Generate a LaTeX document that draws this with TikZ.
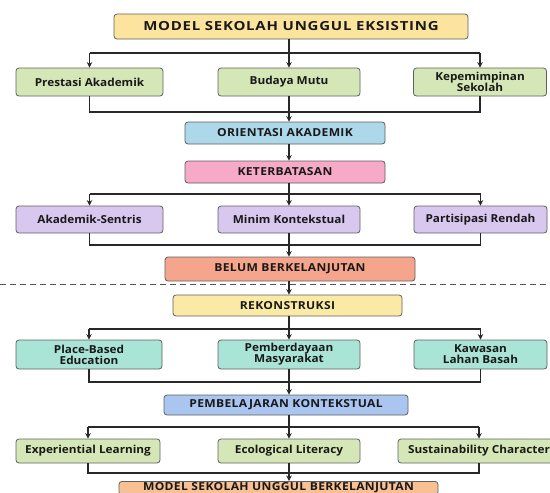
\documentclass[tikz,border=0pt]{standalone}
\usepackage{fontspec}
\setmainfont{Open Sans}[FakeStretch=1.07]
\newfontfamily\capfont{Open Sans}[FakeStretch=1.1, LetterSpace=3]
\newfontfamily\titlefont{Open Sans}[FakeStretch=1.2, LetterSpace=6]
\usepackage{xcolor}
\usepackage{tikz}
\usetikzlibrary{arrows.meta,positioning,calc}
\definecolor{lineGray}{RGB}{40, 40, 40}
\definecolor{edgeGray}{RGB}{95, 95, 95}
\definecolor{titleYellow}{RGB}{252, 228, 158}
\definecolor{softGreen}{RGB}{214, 231, 183}
\definecolor{skyBlue}{RGB}{172, 216, 234}
\definecolor{rosePink}{RGB}{246, 170, 199}
\definecolor{lilac}{RGB}{216, 199, 238}
\definecolor{salmon}{RGB}{245, 165, 140}
\definecolor{paleYellow}{RGB}{251, 234, 166}
\definecolor{mintTeal}{RGB}{169, 228, 214}
\definecolor{cornBlue}{RGB}{170, 197, 240}
\definecolor{peach}{RGB}{249, 193, 147}

\begin{document}
\begin{tikzpicture}[x=1pt, y=-1pt,
    box/.style={draw=edgeGray, line width=0.8pt, rounded corners=3pt, align=center,
        inner sep=0pt, font=\fontsize{11}{11}\selectfont\bfseries, text=black!90},
    capbox/.style={box, font=\capfont\fontsize{11}{12}\selectfont\bfseries},
    line/.style={draw=lineGray, line width=1.1pt},
    arr/.style={line, -{Stealth[length=5.5pt, width=5.5pt]}}]
    \useasboundingbox (0,0) rectangle (550,493);

    % Existing model
    \node[box, fill=titleYellow, minimum width=354pt, minimum height=25pt,
        font=\titlefont\fontsize{12.5}{14}\selectfont\bfseries] (top) at (291,26.5) {MODEL SEKOLAH UNGGUL EKSISTING};
    \foreach \nm/\cx/\w/\txt in {pa/89.5/147/Prestasi Akademik, bm/289/142/Budaya Mutu, kp/480/133/{Kepemimpinan\\Sekolah}} {
        \node[box, fill=softGreen, minimum width=\w pt, minimum height=28pt] (\nm) at (\cx,82) {\txt};
    }
    \node[capbox, fill=skyBlue, minimum width=200pt, minimum height=22pt] (oa) at (285,133) {ORIENTASI AKADEMIK};
    \node[capbox, fill=rosePink, minimum width=200pt, minimum height=22pt] (kt) at (285,172) {KETERBATASAN};
    \foreach \nm/\cx/\w/\txt in {as/89.5/147/Akademik-Sentris, mk/289/142/Minim Kontekstual, pr/480.5/133/Partisipasi Rendah} {
        \node[box, fill=lilac, minimum width=\w pt, minimum height=27pt] (\nm) at (\cx,219.5) {\txt};
    }
    \node[capbox, fill=salmon, minimum width=250pt, minimum height=24pt] (bb) at (290,269) {BELUM BERKELANJUTAN};

    % Divider
    \draw[lineGray!80, line width=0.9pt, dash pattern=on 6pt off 4pt] (0,284) -- (550,284);

    % Reconstruction
    \node[capbox, fill=paleYellow, minimum width=229pt, minimum height=21pt] (rk) at (287.5,305.5) {REKONSTRUKSI};
    \foreach \nm/\cx/\w/\txt in {pb/89/146/{Place-Based\\Education}, pm/289/142/{Pemberdayaan\\Masyarakat}, kl/480.5/133/{Kawasan\\Lahan Basah}} {
        \node[box, fill=mintTeal, minimum width=\w pt, minimum height=29pt] (\nm) at (\cx,354.5) {\txt};
    }
    \node[capbox, fill=cornBlue, minimum width=244pt, minimum height=20pt] (pk) at (286,405) {PEMBELAJARAN KONTEKSTUAL};
    \foreach \nm/\cx/\w/\txt in {el/88/144/Experiential Learning, ec/289/142/Ecological Literacy, sc/479/162/Sustainability Character} {
        \node[box, fill=softGreen, minimum width=\w pt, minimum height=24pt] (\nm) at (\cx,451) {\txt};
    }
    \node[capbox, fill=peach, minimum width=319pt, anchor=north, inner ysep=1.5pt] (ms) at (278.5,481) {MODEL SEKOLAH UNGGUL BERKELANJUTAN\vphantom{g}};

    % Bus levels
    \coordinate (b1) at (289,53);  \coordinate (b2) at (289,112);
    \coordinate (b3) at (289,194); \coordinate (b4) at (289,245);
    \coordinate (b5) at (289,329); \coordinate (b6) at (289,382);
    \coordinate (b7) at (289,427); \coordinate (b8) at (289,473);

    % Arrows
    \draw[arr] (top.south -| bm) -- (bm.north);
    \draw[line] (pa.north |- b1) -- (kp.north |- b1);
    \draw[arr] (pa.north |- b1) -- (pa.north);
    \draw[arr] (kp.north |- b1) -- (kp.north);
    \draw[line] (pa.south) -- (pa.south |- b2) -- (kp.south |- b2) -- (kp.south);
    \draw[arr] (bm.south) -- (bm.south |- oa.north);
    \draw[arr] (oa.south -| bm) -- (kt.north -| bm);

    \draw[arr] (kt.south -| mk) -- (mk.north);
    \draw[line] (as.north |- b3) -- (pr.north |- b3);
    \draw[arr] (as.north |- b3) -- (as.north);
    \draw[arr] (pr.north |- b3) -- (pr.north);
    \draw[line] (as.south) -- (as.south |- b4) -- (pr.south |- b4) -- (pr.south);
    \draw[arr] (mk.south) -- (mk.south |- bb.north);
    \draw[arr] (bb.south -| mk) -- (rk.north -| mk);

    \draw[arr] (rk.south -| pm) -- (pm.north);
    \draw[line] (pb.north |- b5) -- (kl.north |- b5);
    \draw[arr] (pb.north |- b5) -- (pb.north);
    \draw[arr] (kl.north |- b5) -- (kl.north);
    \draw[line] (pb.south) -- (pb.south |- b6) -- (kl.south |- b6) -- (kl.south);
    \draw[arr] (pm.south) -- (pm.south |- pk.north);

    \draw[arr] (pk.south -| ec) -- (ec.north);
    \draw[line] (el.north |- b7) -- (sc.north |- b7);
    \draw[arr] (el.north |- b7) -- (el.north);
    \draw[arr] (sc.north |- b7) -- (sc.north);
    \draw[line] (el.south) -- (el.south |- b8) -- (sc.south |- b8) -- (sc.south);
    \draw[arr] (ec.south) -- (ec.south |- ms.north);
\end{tikzpicture}
\end{document}
